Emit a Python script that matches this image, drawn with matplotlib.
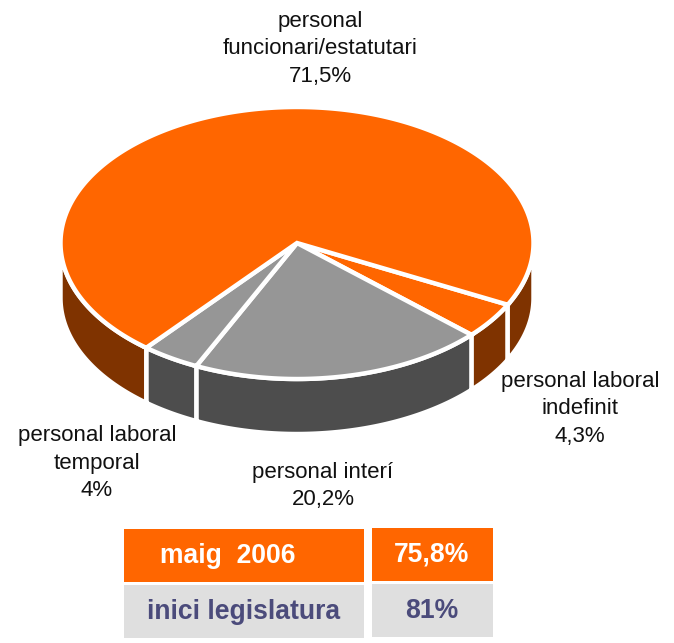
import numpy as np
import matplotlib
matplotlib.use("Agg")
import matplotlib.pyplot as plt
from matplotlib.patches import Polygon, Rectangle

plt.rcParams['font.family'] = ['Liberation Sans', 'DejaVu Sans']

# Data, clockwise from the start angle
slices = ["personal laboral\nindefinit\n4,3%", "personal interí\n20,2%",
          "personal laboral\ntemporal\n4%", "personal\nfuncionari/estatutari\n71,5%"]
values = [4.3, 20.2, 4.0, 71.5]
table_rows = ["maig  2006", "inici legislatura"]
table_vals = ["75,8%", "81%"]

top_cols = ["#FF6600", "#969696", "#969696", "#FF6600"]
side_cols = ["#7F3300", "#4D4D4D", "#4D4D4D", "#7F3300"]
label_pos = [(580, 409), (323, 486), (97, 463), (320, 49)]

W, H = 674, 643
fig = plt.figure(figsize=(W / 100, H / 100), dpi=100)
ax = fig.add_axes([0, 0, 1, 1])
ax.set_xlim(0, W)
ax.set_ylim(H, 0)
ax.axis("off")

cx, cy, rx, ry, depth = 297, 243, 236.5, 136, 55
start = 27.0
white = "white"
lw = 3.2


def rim(a, b, n=160):
    t = np.radians(np.linspace(a, b, n))
    return cx + rx * np.cos(t), cy + ry * np.sin(t)


angles = start + np.concatenate([[0], np.cumsum(values)]) * 3.6

# Side walls: only the near half (0..180 deg) of the ellipse is visible
for i in range(len(values)):
    for shift in (0, 360):
        a = max(angles[i] - shift, 0)
        b = min(angles[i + 1] - shift, 180)
        if b <= a:
            continue
        x, y = rim(a, b)
        pts = np.r_[np.c_[x, y], np.c_[x[::-1], y[::-1] + depth]]
        ax.add_patch(Polygon(pts, closed=True, fc=side_cols[i], ec=white,
                             lw=lw, joinstyle="miter", zorder=2))

# Top faces
for i in range(len(values)):
    x, y = rim(angles[i], angles[i + 1], 400)
    pts = np.r_[[[cx, cy]], np.c_[x, y]]
    ax.add_patch(Polygon(pts, closed=True, fc=top_cols[i], ec=white,
                         lw=lw, joinstyle="miter", zorder=3))

# Labels
for s, (lx, ly) in zip(slices, label_pos):
    ax.text(lx, ly, s, ha="center", va="center", fontsize=16,
            linespacing=1.39, color="#111111", zorder=5)

# Summary table
row_y = [(529, 53), (585, 53)]
row_y2 = [(528, 53), (584, 53)]
fills = ["#FF6600", "#DFDFDF"]
txt = ["white", "#4B4B7B"]
for i in range(2):
    y0, h = row_y[i]
    ax.add_patch(Rectangle((124, y0), 240, h, fc=fills[i], ec="none", zorder=2))
    y1, h1 = row_y2[i]
    ax.add_patch(Rectangle((372, y1), 121, h1, fc=fills[i], ec="none", zorder=2))
    ax.text(228 if i == 0 else 243.5, y0 + h / 2 + 0.5, table_rows[i], ha="center", va="center",
            fontsize=19.1, fontweight="bold", color=txt[i], zorder=5)
    ax.text(432, y1 + h1 / 2, table_vals[i], ha="center", va="center",
            fontsize=19.1, fontweight="bold", color=txt[i], zorder=5)

fig.savefig("out.png", dpi=100)
